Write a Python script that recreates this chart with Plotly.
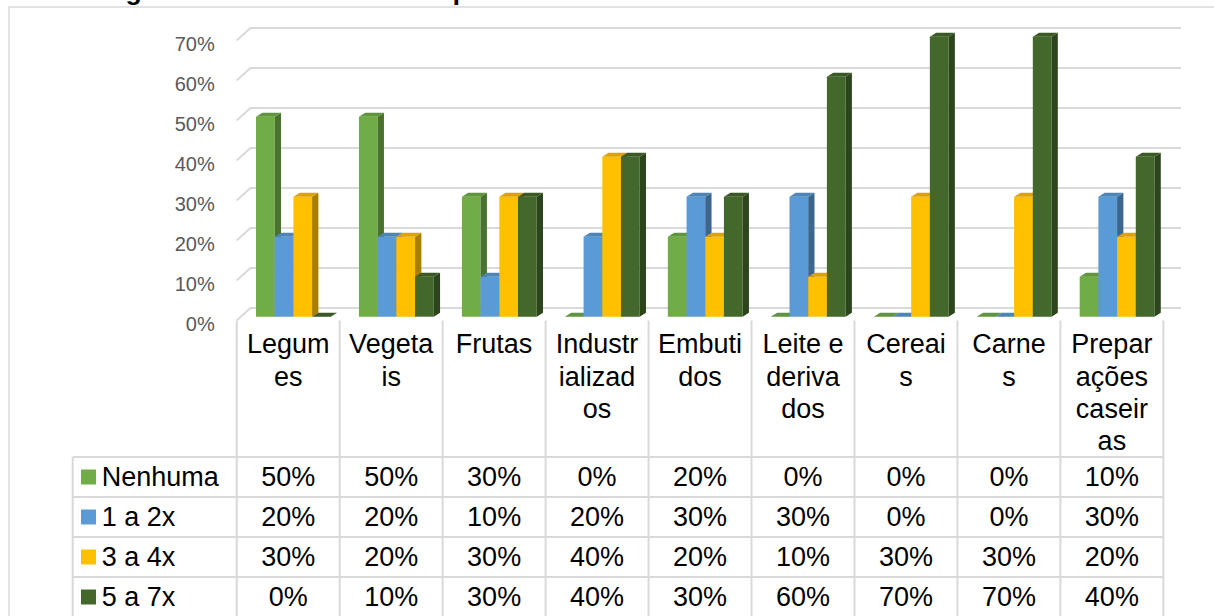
import plotly.graph_objects as go

# ---------------- data ----------------
categories = ["Legumes", "Vegetais", "Frutas", "Industrializados", "Embutidos",
              "Leite e derivados", "Cereais", "Carnes", "Preparações caseiras"]
category_labels = ["Legum<br>es", "Vegeta<br>is", "Frutas", "Industr<br>ializad<br>os",
                   "Embuti<br>dos", "Leite e<br>deriva<br>dos", "Cereai<br>s",
                   "Carne<br>s", "Prepar<br>ações<br>caseir<br>as"]
series_names = ["Nenhuma", "1 a 2x", "3 a 4x", "5 a 7x"]
nenhuma = [0.50, 0.50, 0.30, 0.00, 0.20, 0.00, 0.00, 0.00, 0.10]
vezes_1_2 = [0.20, 0.20, 0.10, 0.20, 0.30, 0.30, 0.00, 0.00, 0.30]
vezes_3_4 = [0.30, 0.20, 0.30, 0.40, 0.20, 0.10, 0.30, 0.30, 0.20]
vezes_5_7 = [0.00, 0.10, 0.30, 0.40, 0.30, 0.60, 0.70, 0.70, 0.40]
y_ticks = [0.0, 0.1, 0.2, 0.3, 0.4, 0.5, 0.6, 0.7]
y_tick_labels = ["0%", "10%", "20%", "30%", "40%", "50%", "60%", "70%"]
title_text = "Figura 10- Resultado da frequência consumida de cada alimentos semanalmente"

series_values = [nenhuma, vezes_1_2, vezes_3_4, vezes_5_7]
colors = ["#70AD47", "#5B9BD5", "#FFC000", "#43682B"]

# ---------------- geometry / style ----------------
W, H = 1214, 616
ML = 9                      # left margin (outer frame)
PXU = 102.96                # pixels per category unit
CX0 = 288.2                 # pixel x of first category centre
Y0PX = 320.5                # pixel y of value 0 on the front wall edge
PXV = 400.0                 # pixels per 100 %
ROW0PX = 477.0              # pixel y of first table row centre
ROWH = 40.0                 # table row height

def px_to_x(px):
    return (px - CX0) / PXU

def py_to_v(py):
    return (Y0PX - py) / PXV

def py_to_r(py):
    return (py - ROW0PX) / ROWH

x_range = [px_to_x(ML), px_to_x(W)]
y_range = [py_to_v(322), py_to_v(0)]
main_domain = [1 - 322 / H, 1]
table_domain = [0, 1 - 318 / H]
t_range = [py_to_r(H), py_to_r(318)]

BAR_W = 18.7 / PXU
BAR_OFF0 = (256.0 - CX0) / PXU
BASE = (Y0PX - 316.7) / PXV
DX = 6.3 / PXU
DY = 4.0 / PXV
WALL_DX_L = px_to_x(236.7)
WALL_DX_B = px_to_x(250.5)
WALL_DX_R = px_to_x(1181)
WALL_DY = 12.5 / PXV

GRID = "#D9D9D9"
FONT = "Liberation Sans, Arial, sans-serif"


def shade(hexcol, f):
    h = hexcol.lstrip("#")
    r, g, b = (int(h[i:i + 2], 16) for i in (0, 2, 4))
    return "rgb(%d,%d,%d)" % (round(r * f), round(g * f), round(b * f))


fig = go.Figure()

# back wall / floor gridlines (main subplot, drawn first)
gx, gy = [], []
for v in y_ticks:
    gx += [WALL_DX_L, WALL_DX_B, WALL_DX_R, None]
    gy += [v, v + WALL_DY, v + WALL_DY, None]
fig.add_trace(go.Scatter(x=gx, y=gy, mode="lines", line=dict(color=GRID, width=2),
                         hoverinfo="skip", showlegend=False, xaxis="x", yaxis="y"))

# 3D columns, one overlay subplot per series for correct stacking
n = len(categories)
xs = list(range(n))
for s, (name, vals, col) in enumerate(zip(series_names, series_values, colors)):
    yname = "y%d" % (s + 3)
    off = BAR_OFF0 + s * BAR_W
    fig.add_trace(go.Bar(x=xs, y=vals, base=BASE, width=BAR_W, offset=off,
                         marker=dict(color=col, line=dict(width=0)), name=name,
                         showlegend=False, xaxis="x", yaxis=yname))
    sx, sy, tx, ty = [], [], [], []
    for i, v in enumerate(vals):
        xl = i + off
        xr = xl + BAR_W
        b = BASE
        t = BASE + v
        sx += [xr, xr, xr + DX, xr + DX, xr, None]
        sy += [b, t, t + DY, b + DY, b, None]
        tx += [xl, xr, xr + DX, xl + DX, xl, None]
        ty += [t, t, t + DY, t + DY, t, None]
    fig.add_trace(go.Scatter(x=sx, y=sy, mode="lines", fill="toself",
                             fillcolor=shade(col, 0.66), line=dict(width=0, color=shade(col, 0.66)),
                             hoverinfo="skip", showlegend=False, xaxis="x", yaxis=yname))
    fig.add_trace(go.Scatter(x=tx, y=ty, mode="lines", fill="toself",
                             fillcolor=shade(col, 0.86), line=dict(width=0, color=shade(col, 0.86)),
                             hoverinfo="skip", showlegend=False, xaxis="x", yaxis=yname))

# ---------------- data table ----------------
nrows = len(series_names)
x_left = px_to_x(72.7)
x_right = n - 0.5
lx, ly = [], []
for j in range(n + 1):
    lx += [j - 0.5, j - 0.5, None]
    ly += [py_to_r(Y0PX), py_to_r(H + 10), None]
lx += [x_left, x_left, None]
ly += [-0.5, py_to_r(H + 10), None]
for r in range(nrows + 1):
    lx += [x_left, x_right, None]
    ly += [r - 0.5, r - 0.5, None]
fig.add_trace(go.Scatter(x=lx, y=ly, mode="lines", line=dict(color=GRID, width=2),
                         hoverinfo="skip", showlegend=False, xaxis="x2", yaxis="y2"))

TFS = 27
# header (category) labels, one text per wrapped line
hx, hy, ht = [], [], []
for i, lab in enumerate(category_labels):
    for k, part in enumerate(lab.split("<br>")):
        baseline = 353.3 + 32.3 * k
        hx.append(i)
        hy.append(py_to_r(baseline - 0.25 * TFS))
        ht.append(part)
fig.add_trace(go.Scatter(x=hx, y=hy, text=ht, mode="text", textposition="middle center",
                         textfont=dict(family=FONT, size=TFS, color="#000000"),
                         hoverinfo="skip", showlegend=False, xaxis="x2", yaxis="y2"))

# legend keys and row names
row_dy = (8.5 - 0.25 * TFS) / ROWH
fig.add_trace(go.Scatter(x=[px_to_x(88.5)] * nrows, y=list(range(nrows)), mode="markers",
                         marker=dict(symbol="square", size=15, color=colors, line=dict(width=0)),
                         hoverinfo="skip", showlegend=False, xaxis="x2", yaxis="y2"))
fig.add_trace(go.Scatter(x=[px_to_x(101.7)] * nrows, y=[r + row_dy for r in range(nrows)],
                         text=series_names, mode="text", textposition="middle right",
                         textfont=dict(family=FONT, size=TFS, color="#000000"),
                         hoverinfo="skip", showlegend=False, xaxis="x2", yaxis="y2"))

# cell values
vx, vy, vt = [], [], []
for r, vals in enumerate(series_values):
    for i, v in enumerate(vals):
        vx.append(i)
        vy.append(r + row_dy)
        vt.append("%d%%" % round(v * 100))
fig.add_trace(go.Scatter(x=vx, y=vy, text=vt, mode="text", textposition="middle center",
                         textfont=dict(family=FONT, size=TFS, color="#000000"),
                         hoverinfo="skip", showlegend=False, xaxis="x2", yaxis="y2"))

# ---------------- layout ----------------
layout = dict(
    width=W, height=H, autosize=False,
    margin=dict(l=ML, r=0, t=0, b=0, pad=0, autoexpand=False),
    paper_bgcolor="white", plot_bgcolor="rgba(0,0,0,0)",
    barmode="overlay",
    showlegend=False,
    xaxis=dict(domain=[0, 1], range=x_range, visible=False, fixedrange=True, automargin=False),
    yaxis=dict(domain=main_domain, range=y_range, anchor="free",
               position=(236.7 - ML) / (W - ML),
               tickvals=y_ticks, ticktext=y_tick_labels, ticks="",
               showgrid=False, zeroline=False, showline=False, automargin=False,
               tickfont=dict(family=FONT, size=20, color="#595959"),
               ticklabelstandoff=22, ticklabelshift=3, fixedrange=True),
    xaxis2=dict(domain=[0, 1], range=x_range, anchor="y2", visible=False, fixedrange=True,
                automargin=False),
    yaxis2=dict(domain=table_domain, range=t_range, anchor="x2", visible=False, fixedrange=True,
                automargin=False),
    shapes=[dict(type="rect", xref="paper", yref="paper", x0=0, x1=1.05,
                 y0=-0.05, y1=1 - 7 / H, line=dict(color=GRID, width=1.5), layer="below")],
    annotations=[dict(text="<b>" + title_text + "</b>", xref="paper", yref="paper",
                      x=(611 - ML) / (W - ML), y=1 + 8.7 / H, xanchor="center", yanchor="middle",
                      showarrow=False, font=dict(family=FONT, size=26.5, color="#000000"))],
)
for s in range(len(series_names)):
    layout["yaxis%d" % (s + 3)] = dict(domain=main_domain, range=y_range, overlaying="y",
                                       anchor="x", visible=False, fixedrange=True,
                                       automargin=False)
fig.update_layout(**layout)

fig.write_html("out.html", config={"displayModeBar": False},
               post_script="document.body.style.margin='0px';")
